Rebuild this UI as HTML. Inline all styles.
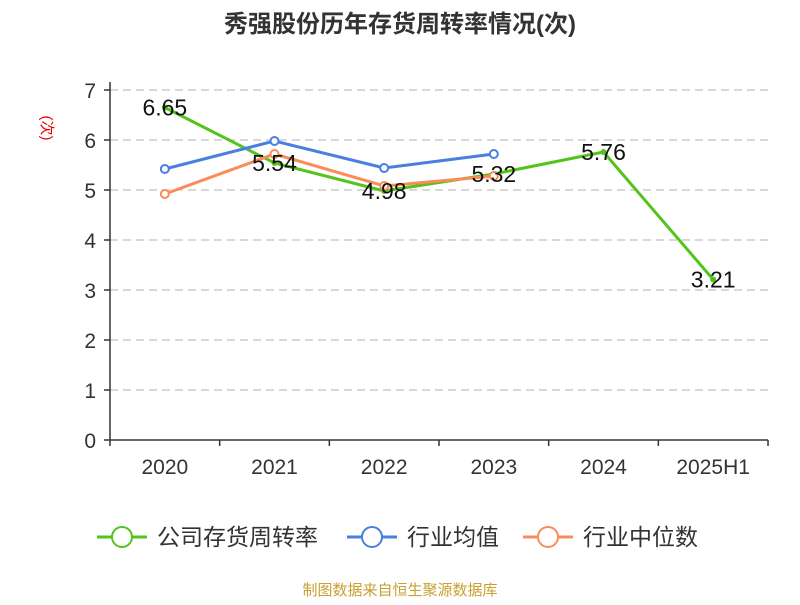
<!DOCTYPE html>
<html><head><meta charset="utf-8"><style>
body{margin:0;background:#fff;}
svg text{font-family:"Liberation Sans","Noto Sans CJK SC",sans-serif;}
</style></head><body>
<svg id="c" width="800" height="600" xmlns="http://www.w3.org/2000/svg">
<text x="400" y="32" text-anchor="middle" font-size="24" font-weight="bold" fill="#333">秀强股份历年存货周转率情况(次)</text>
<text x="0" y="0" transform="translate(42,128) rotate(90)" text-anchor="middle" font-size="15" fill="#e00">(次)</text>
<g id="grid"></g><g id="series"></g>
<g>
<g><line x1="97" y1="537" x2="147" y2="537" stroke="#52c41a" stroke-width="3"/><circle cx="122" cy="537" r="10" fill="#fff" stroke="#52c41a" stroke-width="2"/><text x="157" y="545" font-size="23" fill="#333">公司存货周转率</text></g>
<g><line x1="347" y1="537" x2="397" y2="537" stroke="#4a7fe0" stroke-width="3"/><circle cx="372" cy="537" r="10" fill="#fff" stroke="#4a7fe0" stroke-width="2"/><text x="407" y="545" font-size="23" fill="#333">行业均值</text></g>
<g><line x1="523" y1="537" x2="573" y2="537" stroke="#fa8c5a" stroke-width="3"/><circle cx="548" cy="537" r="10" fill="#fff" stroke="#fa8c5a" stroke-width="2"/><text x="583" y="545" font-size="23" fill="#333">行业中位数</text></g>
</g>
<text x="400" y="595" text-anchor="middle" font-size="15" fill="#c8a030">制图数据来自恒生聚源数据库</text>
</svg>
<script>
const categories=["2020","2021","2022","2023","2024","2025H1"];
const companyVals=[6.65,5.54,4.98,5.32,5.76,3.21];
const avgVals=[5.42,5.98,5.44,5.72];
const medianVals=[4.92,5.72,5.08,5.28];
const yTicks=[0,1,2,3,4,5,6,7];
const NS="http://www.w3.org/2000/svg";
const L=110,R=768,T=90,B=440;
const bw=(R-L)/categories.length;
const xs=i=>L+bw*(i+0.5);
const ys=v=>B-(v/7)*(B-T);
function mk(tag,attrs,parent,txt){const e=document.createElementNS(NS,tag);for(const k in attrs)e.setAttribute(k,attrs[k]);if(txt!==undefined)e.textContent=txt;parent.appendChild(e);return e;}
const g=document.getElementById('grid');
yTicks.forEach(t=>{
 if(t>0){const gl=mk('line',{x1:L,x2:R,y1:ys(t),y2:ys(t),stroke:'#ccc','stroke-width':1.5,'stroke-dasharray':'8,5'},g);
 
 }
 const tk=mk('line',{x1:L-6,x2:L,y1:ys(t),y2:ys(t),stroke:'#333','stroke-width':1.5},g);
 
 
 const tl=mk('text',{x:L-14,y:ys(t)+8,'text-anchor':'end','font-size':21,fill:'#333'},g,String(t));
 
 
});
const ya=mk('line',{x1:L,x2:L,y1:T-8,y2:B,stroke:'#333','stroke-width':1.5},g);


const xa=mk('line',{x1:L,x2:R,y1:B,y2:B,stroke:'#333','stroke-width':1.5},g);


for(let i=0;i<=categories.length;i++){const tk=mk('line',{x1:L+bw*i,x2:L+bw*i,y1:B,y2:B+6,stroke:'#333','stroke-width':1.5},g);
 
 }
categories.forEach((c,i)=>{const t=mk('text',{x:xs(i),y:B+34,'text-anchor':'middle','font-size':21,fill:'#333'},g,c);
 
 });
const s=document.getElementById('series');
function series(vals,color,name,markers){
 const pts=vals.map((v,i)=>xs(i)+','+ys(v)).join(' ');
 const pl=mk('polyline',{points:pts,fill:'none',stroke:color,'stroke-width':3},s);
 
 
 vals.forEach((v,i)=>{
  const c=mk('circle',{cx:xs(i),cy:ys(v),r:markers?4:2,fill:markers?'#fff':color,stroke:color,'stroke-width':2},s);
  
  
 });
}
series(companyVals,'#52c41a','company',false);
series(avgVals,'#4a7fe0','industry-avg',true);
series(medianVals,'#fa8c5a','industry-median',true);
companyVals.forEach((v,i)=>{const t=mk('text',{x:xs(i),y:ys(v)+8,'text-anchor':'middle','font-size':23,fill:'#111'},s,v.toFixed(2));
 
 });
</script>
</body></html>
